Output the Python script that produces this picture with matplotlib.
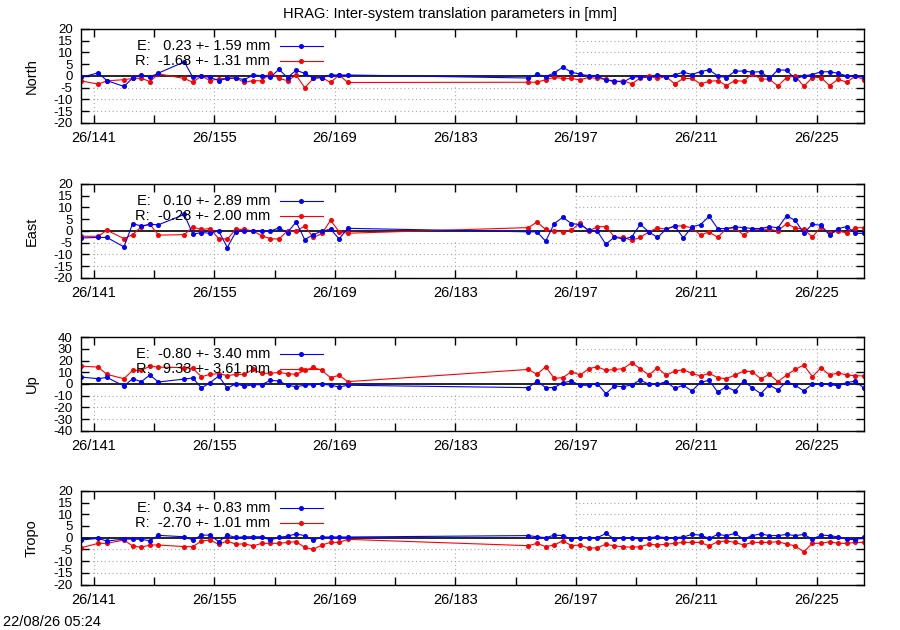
import matplotlib
matplotlib.use('Agg')
import matplotlib.pyplot as plt
from matplotlib.patches import Polygon
from matplotlib.ticker import FixedLocator

plt.rcParams['font.family'] = ['Liberation Sans', 'DejaVu Sans']
plt.rcParams['font.size'] = 10.5

# day of year 2026 (noon epochs)
days = [139.5, 141.5, 142.5, 144.5, 145.5, 146.5, 147.5, 148.5,
        151.5, 152.5, 153.5, 154.5, 155.5, 156.5, 157.5, 158.5, 159.5, 160.5,
        161.5, 162.5, 163.5, 164.5, 165.5, 166.5, 167.5, 168.5, 169.5, 170.5,
        191.5, 192.5, 193.5, 194.5, 195.5, 196.5, 197.5, 198.5, 199.5, 200.5,
        201.5, 202.5, 203.5, 204.5, 205.5, 206.5, 207.5, 208.5, 209.5, 210.5,
        211.5, 212.5, 213.5, 214.5, 215.5, 216.5, 217.5, 218.5, 219.5, 220.5,
        221.5, 222.5, 223.5, 224.5, 225.5, 226.5, 227.5, 228.5, 229.5, 230.5]

north_e = [-0.6, 1.3, -2.0, -4.5, -0.9, 0.4, -0.5, 1.2,
           6.0, -0.6, -0.1, -0.6, -2.0, -1.1, -0.9, -1.6, 0.4, 0.1,
           -0.6, 2.8, -0.7, 2.4, 1.1, -0.9, -0.7, 0.4, 0.4, 0.4,
           -0.9, 0.7, -0.3, 1.3, 3.7, 1.6, 0.7, 0.1, 0.0, -1.8,
           -2.0, -2.7, -0.6, -0.3, -0.7, 0.6, -0.4, 0.4, 1.6, 0.6,
           1.8, 2.6, 0.0, -0.7, 2.0, 2.1, 1.6, 1.8, -1.1, 2.6,
           2.4, -1.3, 0.0, 0.6, 1.7, 1.8, 1.1, 0.0, 0.1, -0.6]
north_r = [-2.1, -3.5, -2.1, -1.6, -1.1, -1.0, -2.4, 0.9,
           -1.1, -2.7, 0.0, -2.0, -1.3, -1.0, -0.9, -2.8, -2.0, -2.1,
           1.3, -1.1, -2.0, 0.3, -5.0, -1.1, -0.7, -2.8, 0.4, -2.8,
           -2.7, -2.7, -1.6, -0.6, -1.1, -1.1, -1.7, -0.6, -1.1, -1.4,
           -2.7, -2.0, -3.4, -0.9, -0.1, -1.1, -0.3, -3.4, -1.1, -1.1,
           -3.4, -2.3, -2.0, -4.1, -2.0, -2.3, 0.9, -1.3, -1.4, -4.3,
           -0.7, 0.0, -4.4, -0.7, -0.7, -4.1, -1.4, -2.7, 0.0, -1.7]

east_e = [-3.0, -2.8, -2.8, -6.8, 3.1, 2.1, 2.8, 2.6,
          7.0, -1.4, -0.7, -1.0, 0.0, -7.1, -0.4, 0.0, 0.0, 0.0,
          -0.1, 1.3, -0.7, 3.8, -3.7, -1.6, -0.1, 0.7, -3.4, 1.1,
          -0.4, -0.4, -4.4, 3.1, 5.8, 3.1, 2.7, 0.3, -0.1, -5.7,
          -2.6, -3.5, -2.6, 2.8, -0.4, -2.8, 0.7, 2.1, -3.0, 1.7,
          2.7, 6.2, 1.0, 1.0, 1.7, 1.4, 1.0, 1.0, 1.8, 1.3,
          6.4, 4.5, -0.9, 2.8, 2.4, -1.8, 1.0, 1.8, -1.0, -1.1]
east_r = [-2.3, -2.3, 0.3, -3.3, -1.6, 1.8, 2.8, -1.8,
          -1.6, 1.6, 0.6, 1.0, -3.3, -3.5, 0.7, 0.6, 0.0, -2.1,
          -3.3, -3.5, 0.0, -0.1, 2.1, -2.8, -1.1, 4.5, -0.3, -1.0,
          1.4, 3.8, 0.6, -0.1, -0.4, 0.3, 3.4, -0.1, 1.8, 1.8,
          -2.6, -2.8, -4.0, -2.8, -0.4, 1.3, 0.7, 2.1, 2.1, 1.3,
          -1.8, -0.4, -2.8, 1.0, 1.3, -1.8, 0.7, 0.7, 0.7, 0.0,
          3.1, 1.3, 0.7, -2.6, 1.7, -1.1, 0.0, -0.9, 1.3, 1.4]

up_e = [5.9, 4.5, 5.6, -1.7, 4.5, 2.0, 7.6, 1.7,
        4.2, 5.1, -3.4, 1.1, 6.8, -3.7, 0.3, -2.0, -0.6, -0.6,
        3.1, 2.5, -1.1, -2.3, -1.1, -0.6, 0.0, -1.1, -2.5, -1.1,
        -3.1, 2.5, -3.1, -3.1, 1.1, 2.5, -1.1, -1.1, 0.3, -8.2,
        -1.7, -2.3, -0.8, 3.4, -0.3, -0.3, 2.0, -3.7, -1.1, -5.9,
        1.4, 3.1, -6.8, -2.3, -5.9, 2.5, -3.1, -8.2, -0.8, -5.1,
        2.0, -1.1, -5.9, 0.0, -0.3, -0.3, -1.7, 1.1, 2.5, -3.7]
up_r = [15.2, 14.4, 8.2, 4.5, 11.6, 11.6, 15.2, 14.4,
        13.9, 13.3, 6.2, 8.2, 8.8, 7.1, 8.2, 8.2, 12.5, 9.1,
        9.1, 9.9, 8.8, 8.2, 11.6, 14.2, 11.6, 5.4, 7.4, 2.0,
        12.4, 8.2, 14.7, 4.8, 5.4, 10.5, 7.6, 13.0, 14.7, 11.6,
        12.4, 13.0, 18.1, 13.0, 7.6, 13.9, 7.4, 11.0, 12.1, 9.1,
        6.8, 9.1, 5.4, 4.5, 7.6, 11.0, 10.5, 4.5, 8.2, 2.0,
        7.6, 12.4, 16.1, 6.2, 13.9, 7.6, 9.4, 7.6, 7.1, 6.8]

tropo_e = [-1.0, -0.3, -1.4, -0.6, -0.6, -0.7, -1.3, 1.0,
           0.4, -1.0, 1.1, 1.1, -1.7, 1.1, 0.1, 0.4, 0.4, 0.4,
           -1.0, 0.1, 0.7, 1.6, 0.9, -1.0, 0.3, 0.3, 0.3, 0.3,
           0.9, 0.4, 0.0, 1.1, 0.9, -0.6, 0.0, 0.0, 0.0, 1.8,
           -0.6, 0.0, 0.0, -0.6, 0.0, 0.4, 0.0, 0.0, 0.3, 1.4,
           1.1, -0.3, 1.4, 0.9, 1.8, -0.6, 0.9, 1.6, 0.9, 0.9,
           1.4, 0.9, 1.4, -0.6, 1.1, 0.9, 0.3, -0.6, -0.9, 0.3]
tropo_r = [-4.3, -2.4, -2.4, -1.0, -3.5, -4.1, -3.1, -3.1,
           -3.8, -3.8, -1.4, -1.0, -2.8, -1.4, -2.8, -2.6, -3.5, -2.4,
           -2.4, -2.4, -2.0, -1.7, -4.1, -5.0, -3.1, -2.0, -2.0, -0.7,
           -3.4, -2.4, -3.8, -3.1, -1.3, -3.4, -3.1, -4.5, -4.3, -2.8,
           -3.5, -3.8, -4.1, -3.8, -2.8, -3.1, -2.8, -2.4, -2.0, -2.0,
           -2.0, -3.5, -1.7, -1.4, -2.0, -3.1, -2.0, -2.0, -2.0, -1.7,
           -2.7, -3.5, -6.0, -2.4, -2.4, -1.7, -2.4, -2.4, -2.0, -2.0]

panels = ['North', 'East', 'Up', 'Tropo']
e_series = [north_e, east_e, up_e, tropo_e]
r_series = [north_r, east_r, up_r, tropo_r]
e_labels = ['E:   0.23 +- 1.59 mm', 'E:   0.10 +- 2.89 mm',
            'E:  -0.80 +- 3.40 mm', 'E:   0.34 +- 0.83 mm']
r_labels = ['R:  -1.68 +- 1.31 mm', 'R:  -0.28 +- 2.00 mm',
            'R:   9.33 +- 3.61 mm', 'R:  -2.70 +- 1.01 mm']
y_limits = [20, 20, 40, 20]
y_steps = [5, 5, 10, 5]

major_days = [141, 155, 169, 183, 197, 211, 225]
minor_days = [148, 162, 176, 190, 204, 218]

fig = plt.figure(figsize=(9, 6.3), dpi=100)
bottoms = [0.805, 0.559, 0.316, 0.072]

for i in range(4):
    ax = fig.add_axes([0.09, bottoms[i], 0.87, 0.149])
    lim = y_limits[i]
    ax.set_xlim(139.5, 230.5)
    ax.set_ylim(-lim, lim)
    ax.xaxis.set_major_locator(FixedLocator(major_days))
    ax.xaxis.set_minor_locator(FixedLocator(minor_days))
    ax.set_xticklabels(['26/%d' % d for d in major_days])
    yt = list(range(-lim, lim + 1, y_steps[i]))
    ax.yaxis.set_major_locator(FixedLocator(yt))
    ax.set_yticklabels([str(v) for v in yt], fontsize=9.5)
    ax.tick_params(which='both', direction='in', top=True, right=True,
                   length=5.5, width=1, pad=6)
    for s in ax.spines.values():
        s.set_linewidth(1.0)

    ax.grid(True, color='#a8a8a8', linestyle=(0, (1, 2.5)), linewidth=0.8)
    # key area hides the grid (like gnuplot's opaque key)
    clip = Polygon([(0, 0), (1, 0), (1, 1), (0.628, 1), (0.628, 0.39), (0, 0.39)],
                   closed=True, transform=ax.transAxes, visible=False)
    ax.add_patch(clip)
    for gl in ax.get_xgridlines() + ax.get_ygridlines():
        gl.set_clip_path(clip)

    ax.axhline(0, color='black', linewidth=1.2, zorder=1.8)

    ax.plot(days, e_series[i], color='#0000ff', marker='o', markersize=2.6,
            linewidth=0.8, zorder=2.2)
    ax.plot(days, r_series[i], color='#ff0000', marker='o', markersize=2.6,
            linewidth=0.8, zorder=2.1)

    # key
    for lab, col, yk in [(e_labels[i], '#0000ff', 0.82), (r_labels[i], '#ff0000', 0.66)]:
        ax.text(0.2414, yk, lab, transform=ax.transAxes, ha='right', va='center')
        ax.plot([0.254, 0.309], [yk, yk], transform=ax.transAxes, color=col,
                linewidth=0.8, zorder=3)
        ax.plot([0.2816], [yk], transform=ax.transAxes, color=col, marker='o',
                markersize=2.6, zorder=3)

    ax.set_ylabel(panels[i])
    ax.yaxis.set_label_coords(-0.054, 0.5)

fig.text(0.5, 1 - 14 / 630, 'HRAG: Inter-system translation parameters in [mm]',
         ha='center', va='center')
fig.text(3 / 900, 1 - 622 / 630, '22/08/26 05:24', ha='left', va='center')

fig.savefig('out.png', dpi=100)
